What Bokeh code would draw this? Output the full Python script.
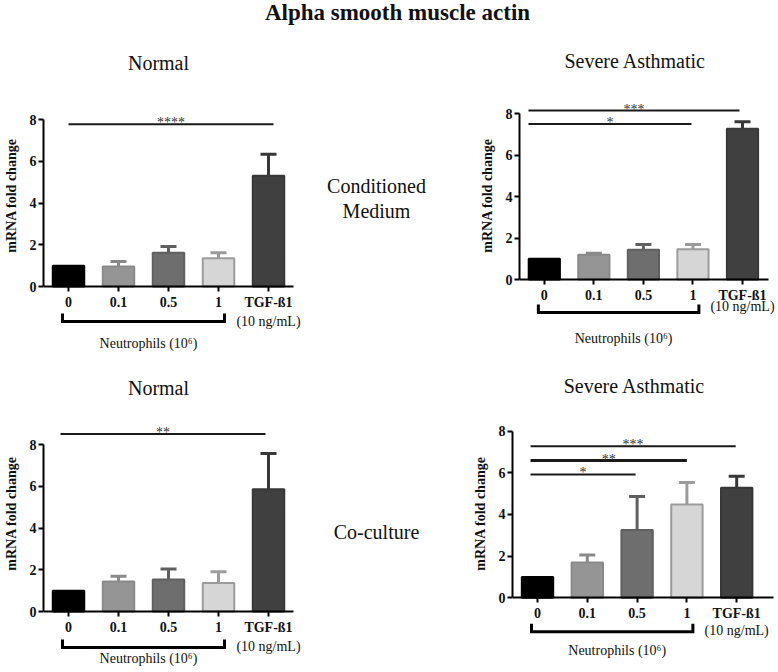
from bokeh.plotting import figure
from bokeh.models import Range1d, FixedTicker, ColumnDataSource
from bokeh.layouts import row, column
from bokeh.core.properties import value
from bokeh.embed import file_html
from bokeh.resources import INLINE

# ---------------- data ----------------
categories = ["0", "0.1", "0.5", "1", "TGF-ß1"]
bar_fill = ["#000000", "#959595", "#6e6e6e", "#d6d6d6", "#404040"]
bar_line = ["#000000", "#8a8a8a", "#606060", "#9b9b9b", "#383838"]
y_ticks = [0, 2, 4, 6, 8]

cm_normal_mean = [1.0, 0.96, 1.62, 1.35, 5.30]
cm_normal_err = [0.0, 0.24, 0.30, 0.27, 1.03]
cm_severe_mean = [1.0, 1.19, 1.43, 1.46, 7.26]
cm_severe_err = [0.0, 0.08, 0.26, 0.23, 0.34]
cc_normal_mean = [1.0, 1.44, 1.53, 1.36, 5.86]
cc_normal_err = [0.0, 0.25, 0.50, 0.54, 1.71]
cc_severe_mean = [1.0, 1.69, 3.26, 4.48, 5.28]
cc_severe_err = [0.0, 0.37, 1.60, 1.05, 0.56]

# significance bars: start, end (category positions), height, label, line width
cm_normal_sig = [(0.0, 4.1, 7.77, "****", 2)]
cm_severe_sig = [(-0.32, 3.94, 8.14, "***", 2), (-0.32, 2.97, 7.50, "*", 2)]
cc_normal_sig = [(-0.16, 3.94, 8.50, "**", 2)]
cc_severe_sig = [(-0.14, 3.98, 7.28, "***", 2), (-0.14, 3.0, 6.59, "**", 3),
                 (-0.14, 1.97, 5.92, "*", 2)]

main_title = "Alpha smooth muscle actin"
row_labels = [["Conditioned", "Medium"], ["Co-culture"]]
panel_titles = ["Normal", "Severe Asthmatic", "Normal", "Severe Asthmatic"]
group_label = "Neutrophils (10\u2076)"
tgf_label = "(10 ng/mL)"
y_label = "mRNA fold change"

SERIF = value("Liberation Serif")
TXT = "#111111"
SMALL = "14px"

# ---------------- layout (page pixel geometry) ----------------
GEO = [
    dict(fig_left=0, fig_w=308, border=43, row_top=34, row_h=322, c0=68.0, dx=50.0,
         y0=286.0, dy=20.875, axis_end=293, bracket=35, ngml=35, neut=57,
         title_xy=(158, 62)),
    dict(fig_left=475, fig_w=302, border=44, row_top=34, row_h=322, c0=543.8, dx=49.55,
         y0=279.0, dy=20.75, axis_end=768, bracket=33, ngml=27, neut=59,
         title_xy=(634.7, 60.5)),
    dict(fig_left=0, fig_w=308, border=43, row_top=356, row_h=314, c0=68.0, dx=50.0,
         y0=611.0, dy=20.875, axis_end=293, bracket=36, ngml=35, neut=47,
         title_xy=(158, 387)),
    dict(fig_left=468, fig_w=309, border=44, row_top=356, row_h=314, c0=537.0, dx=49.8,
         y0=597.3, dy=20.83, axis_end=773, bracket=34, ngml=33, neut=53,
         title_xy=(634, 385)),
]


def make_panel(mean, err, sig, title, g):
    frame_l = g["fig_left"] + g["border"]
    frame_r = g["fig_left"] + g["fig_w"]
    xd = lambda px: (px - g["c0"]) / g["dx"]
    yd = lambda px: (g["y0"] - px) / g["dy"]
    p = figure(width=g["fig_w"], height=g["row_h"], output_backend="svg",
               toolbar_location=None,
               x_range=Range1d(xd(frame_l), xd(frame_r)),
               y_range=Range1d(yd(g["row_top"] + g["row_h"]), yd(g["row_top"])),
               min_border_left=g["border"], min_border_right=0,
               min_border_top=0, min_border_bottom=0)
    p.outline_line_color = None
    p.grid.visible = False
    p.background_fill_color = "white"
    p.border_fill_color = "white"

    n = len(categories)
    xs = list(range(n))
    src = ColumnDataSource(dict(x=xs, top=mean, fill=bar_fill, line=bar_line))
    p.vbar(x="x", top="top", bottom=0, width=0.63, fill_color="fill",
           line_color="line", line_width=2, source=src)

    idx = [i for i in xs if err[i] > 0]
    cap = 8.0 / g["dx"]
    esrc = ColumnDataSource(dict(
        x=[i for i in idx], y0=[mean[i] for i in idx],
        y1=[mean[i] + err[i] for i in idx],
        xl=[i - cap for i in idx], xr=[i + cap for i in idx],
        col=[bar_line[i] for i in idx]))
    p.segment(x0="x", y0="y0", x1="x", y1="y1", line_color="col", line_width=3, source=esrc)
    p.segment(x0="xl", y0="y1", x1="xr", y1="y1", line_color="col", line_width=3, source=esrc)

    for (a, b, h, lab, lw) in sig:
        p.segment(x0=[a], y0=[h], x1=[b], y1=[h], line_color="#1a1a1a", line_width=lw)
        p.text(x=[(a + b) / 2], y=[h + 1.5 / g["dy"]], text=[lab], text_font=SERIF,
               text_font_size=SMALL, text_align="center", text_baseline="alphabetic",
               text_color="#333333")

    # bracket under the neutrophil groups
    yb = -g["bracket"] / g["dy"]
    yu = -(g["bracket"] - 8) / g["dy"]
    bl, br = 0 - 0.12, 3 + 0.12
    p.line(x=[bl, bl, br, br], y=[yu, yb, yb, yu], line_color="#000000", line_width=3,
           line_join="miter")
    p.text(x=[1.6], y=[-g["neut"] / g["dy"]], text=[group_label], text_font=SERIF,
           text_font_size=SMALL, text_align="center", text_baseline="middle", text_color=TXT)
    p.text(x=[4], y=[-g["ngml"] / g["dy"]], text=[tgf_label],
           text_font=SERIF, text_font_size=SMALL, text_align="center",
           text_baseline="middle", text_color=TXT)
    p.text(x=[xd(g["title_xy"][0])], y=[yd(g["title_xy"][1])], text=[title],
           text_font=SERIF, text_font_size="20px", text_align="center",
           text_baseline="middle", text_color=TXT)

    # axes
    xa = p.xaxis[0]
    xa.fixed_location = 0
    xa.bounds = (xd(frame_l), xd(g["axis_end"]))
    xa.ticker = FixedTicker(ticks=xs)
    xa.major_label_overrides = {i: c for i, c in enumerate(categories)}
    ya = p.yaxis[0]
    ya.bounds = (0, 8)
    ya.ticker = FixedTicker(ticks=y_ticks)
    ya.axis_label = y_label
    ya.axis_label_text_font = "Liberation Serif"
    ya.axis_label_text_font_size = SMALL
    ya.axis_label_text_font_style = "bold"
    ya.axis_label_text_color = TXT
    ya.axis_label_standoff = 8
    for ax in (xa, ya):
        ax.axis_line_width = 2
        ax.axis_line_color = "#000000"
        ax.major_tick_line_width = 2
        ax.major_tick_line_color = "#000000"
        ax.major_tick_out = 5
        ax.major_tick_in = 0
        ax.minor_tick_line_color = None
        ax.major_label_text_font = "Liberation Serif"
        ax.major_label_text_font_size = SMALL
        ax.major_label_text_font_style = "bold"
        ax.major_label_text_color = TXT
    xa.major_label_standoff = 3
    ya.major_label_standoff = 2
    return p


def make_blank(w, h):
    p = figure(width=w, height=h, output_backend="svg", toolbar_location=None,
               x_range=Range1d(0, w), y_range=Range1d(h, 0),
               min_border=0)
    p.axis.visible = False
    p.grid.visible = False
    p.outline_line_color = None
    p.background_fill_color = "white"
    p.border_fill_color = "white"
    return p


title_fig = make_blank(777, 34)
title_fig.text(x=[397], y=[12], text=[main_title], text_font=SERIF, text_font_size="23px",
               text_font_style="bold", text_align="center", text_baseline="middle",
               text_color=TXT)

mid1 = make_blank(167, 322)
mid1.text(x=[68, 68], y=[151, 176], text=row_labels[0], text_font=SERIF,
          text_font_size="20px", text_align="center", text_baseline="middle", text_color=TXT)
mid2 = make_blank(160, 314)
mid2.text(x=[68], y=[175], text=row_labels[1], text_font=SERIF,
          text_font_size="20px", text_align="center", text_baseline="middle", text_color=TXT)

p1 = make_panel(cm_normal_mean, cm_normal_err, cm_normal_sig, panel_titles[0], GEO[0])
p2 = make_panel(cm_severe_mean, cm_severe_err, cm_severe_sig, panel_titles[1], GEO[1])
p3 = make_panel(cc_normal_mean, cc_normal_err, cc_normal_sig, panel_titles[2], GEO[2])
p4 = make_panel(cc_severe_mean, cc_severe_err, cc_severe_sig, panel_titles[3], GEO[3])

layout = column(title_fig, row(p1, mid1, p2), row(p3, mid2, p4))

open("out.html", "w").write(file_html(layout, INLINE))
